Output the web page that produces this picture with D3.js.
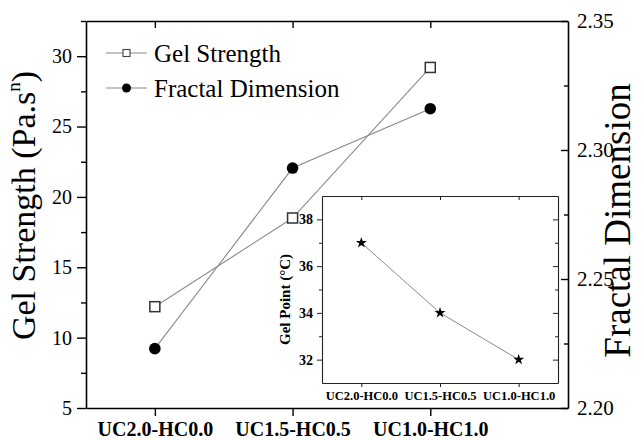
<!DOCTYPE html>
<html>
<head>
<meta charset="utf-8">
<script src="https://cdn.jsdelivr.net/npm/d3@7"></script>
<style>
  html, body { margin: 0; padding: 0; background: #fff; }
  svg { display: block; font-family: "Liberation Serif", "Times New Roman", serif; }
</style>
</head>
<body>
<svg id="chart" width="641" height="440"></svg>
<script>
// Formulations on the shared category axis
const categories = ["UC2.0-HC0.0", "UC1.5-HC0.5", "UC1.0-HC1.0"];
// Gel strength (Pa.s^n), left axis
const gelStrength = [12.2, 18.5, 29.2];
// Fractal dimension, right axis
const fractalDimension = [2.223, 2.293, 2.316];
// Gel point (°C), inset
const gelPoint = [37.0, 34.0, 32.0];

const leftTicks = [5, 10, 15, 20, 25, 30];
const rightTicks = [2.20, 2.25, 2.30, 2.35];
const insetTicks = [32, 34, 36, 38];

const svg = d3.select("#chart");
const frame = { left: 86, right: 568, top: 21, bottom: 408 };

const x = d3.scaleLinear().domain([-0.5, 3]).range([frame.left, frame.right]);
const yL = d3.scaleLinear().domain([5, 32.5]).range([frame.bottom, frame.top]);
const yR = d3.scaleLinear().domain([2.20, 2.35]).range([frame.bottom, frame.top]);
const idx = categories.map((d, i) => i);

const lineColor = "#8a8a8a";
const serif = "Liberation Serif, Times New Roman, serif";

// ---- main axes ----
function styleAxis(g, size) {
  g.selectAll("path.domain").attr("stroke", "#000").attr("stroke-width", 1.6);
  g.selectAll(".tick line").attr("stroke", "#000").attr("stroke-width", 1.4);
  g.selectAll(".tick text").attr("fill", "#000").attr("font-size", size)
    .attr("font-family", serif);
}

// left: labelled majors + minor ticks
svg.append("g").attr("transform", `translate(${frame.left},0)`)
  .call(d3.axisLeft(yL).tickValues(leftTicks).tickSize(9).tickSizeOuter(0).tickPadding(5))
  .call(g => styleAxis(g, 20));
svg.append("g").attr("transform", `translate(${frame.left},0)`)
  .call(d3.axisLeft(yL).tickValues(d3.range(7.5, 32.6, 5)).tickSize(5).tickFormat(""))
  .call(g => { g.select("path.domain").remove(); styleAxis(g, 20); });

// right: ticks point inward, labels outside
svg.append("g").attr("transform", `translate(${frame.right},0)`)
  .call(d3.axisRight(yR).tickValues(rightTicks).tickSize(-7).tickSizeOuter(0).tickPadding(9)
    .tickFormat(d3.format(".2f")))
  .call(g => styleAxis(g, 21));
svg.append("g").attr("transform", `translate(${frame.right},0)`)
  .call(d3.axisRight(yR).tickValues([2.225, 2.275, 2.325]).tickSize(-4).tickFormat(""))
  .call(g => { g.select("path.domain").remove(); styleAxis(g, 20); });

// bottom: category labels
svg.append("g").attr("transform", `translate(0,${frame.bottom})`)
  .call(d3.axisBottom(x).tickValues(idx).tickSize(8).tickSizeOuter(0).tickPadding(6)
    .tickFormat(i => categories[i]))
  .call(g => { styleAxis(g, 20); g.selectAll(".tick text").attr("font-weight", "bold"); });

// top border with inward ticks
svg.append("g").attr("transform", `translate(0,${frame.top})`)
  .call(d3.axisBottom(x).tickValues(idx).tickSize(7).tickSizeOuter(0).tickFormat(""))
  .call(g => styleAxis(g, 20));

// axis titles
svg.append("text")
  .attr("transform", `translate(35,${(frame.top + frame.bottom) / 2 - 9}) rotate(-90)`)
  .attr("text-anchor", "middle").attr("font-size", 34).attr("fill", "#000")
  .attr("font-family", serif)
  .call(t => {
    t.append("tspan").text("Gel Strength (Pa.s");
    t.append("tspan").text("n").attr("font-size", 19).attr("dy", -15);
    t.append("tspan").text(")").attr("dy", 15);
  });
svg.append("text")
  .attr("transform", `translate(630,${(frame.top + frame.bottom) / 2 + 6}) rotate(-90)`)
  .attr("text-anchor", "middle").attr("font-size", 37).attr("fill", "#000")
  .attr("font-family", serif)
  .text("Fractal Dimension");

// ---- main series ----
const gelLine = d3.line().x((d, i) => x(i)).y(d => yL(d));
const fdLine = d3.line().x((d, i) => x(i)).y(d => yR(d));

svg.append("path").datum(gelStrength).attr("d", gelLine)
  .attr("fill", "none").attr("stroke", lineColor).attr("stroke-width", 1.1);
svg.append("path").datum(fractalDimension).attr("d", fdLine)
  .attr("fill", "none").attr("stroke", lineColor).attr("stroke-width", 1.1);

const sq = 10;
svg.selectAll("rect.gs").data(gelStrength).join("rect").attr("class", "gs")
  .attr("x", (d, i) => x(i) - sq / 2).attr("y", d => yL(d) - sq / 2)
  .attr("width", sq).attr("height", sq)
  .attr("fill", "#fff").attr("stroke", "#333").attr("stroke-width", 1.5);

svg.selectAll("circle.fd").data(fractalDimension).join("circle").attr("class", "fd")
  .attr("cx", (d, i) => x(i)).attr("cy", d => yR(d)).attr("r", 5.8)
  .attr("fill", "#000");

// ---- legend ----
const legend = svg.append("g");
const legendRows = [
  { label: "Gel Strength", y: 53, mark: "square" },
  { label: "Fractal Dimension", y: 88, mark: "circle" }
];
legendRows.forEach(r => {
  legend.append("line").attr("x1", 106).attr("x2", 147).attr("y1", r.y).attr("y2", r.y)
    .attr("stroke", lineColor).attr("stroke-width", 1.1);
  if (r.mark === "square") {
    legend.append("rect").attr("x", 123).attr("y", r.y - 3.5).attr("width", 7).attr("height", 7)
      .attr("fill", "#fff").attr("stroke", "#444").attr("stroke-width", 1.1);
  } else {
    legend.append("circle").attr("cx", 126.5).attr("cy", r.y).attr("r", 4.5).attr("fill", "#000");
  }
  legend.append("text").attr("x", 154).attr("y", r.y + 9)
    .attr("font-size", 25).attr("fill", "#000").attr("font-family", serif).text(r.label);
});

// ---- inset: gel point ----
const inset = { left: 322, right: 558, top: 196, bottom: 383 };
const xi = d3.scaleLinear().domain([-0.5, 2.5]).range([inset.left, inset.right]);
const yi = d3.scaleLinear().domain([31, 39]).range([inset.bottom, inset.top]);

svg.append("rect").attr("x", inset.left).attr("y", inset.top)
  .attr("width", inset.right - inset.left).attr("height", inset.bottom - inset.top)
  .attr("fill", "#fff");

function styleInset(g, size) {
  g.selectAll("path.domain").attr("stroke", "#222").attr("stroke-width", 1.1);
  g.selectAll(".tick line").attr("stroke", "#222").attr("stroke-width", 1);
  g.selectAll(".tick text").attr("fill", "#000").attr("font-size", size)
    .attr("font-weight", "bold").attr("font-family", serif);
}

const insetMinor = d3.range(33, 38, 2);
svg.append("g").attr("transform", `translate(${inset.left},0)`)
  .call(d3.axisLeft(yi).tickValues(insetTicks).tickSize(5).tickSizeOuter(0).tickPadding(4))
  .call(g => styleInset(g, 14));
svg.append("g").attr("transform", `translate(${inset.left},0)`)
  .call(d3.axisLeft(yi).tickValues(insetMinor).tickSize(3).tickFormat(""))
  .call(g => { g.select("path.domain").remove(); styleInset(g, 14); });
svg.append("g").attr("transform", `translate(${inset.right},0)`)
  .call(d3.axisRight(yi).tickValues(insetTicks).tickSize(-5).tickSizeOuter(0).tickFormat(""))
  .call(g => styleInset(g, 14));
svg.append("g").attr("transform", `translate(${inset.right},0)`)
  .call(d3.axisRight(yi).tickValues(insetMinor).tickSize(-3).tickFormat(""))
  .call(g => { g.select("path.domain").remove(); styleInset(g, 14); });
svg.append("g").attr("transform", `translate(0,${inset.bottom})`)
  .call(d3.axisBottom(xi).tickValues(idx).tickSize(4).tickSizeOuter(0).tickPadding(4)
    .tickFormat(i => categories[i]))
  .call(g => styleInset(g, 12.5));
svg.append("g").attr("transform", `translate(0,${inset.top})`)
  .call(d3.axisBottom(xi).tickValues(idx).tickSize(4).tickSizeOuter(0).tickFormat(""))
  .call(g => styleInset(g, 12.5));

svg.append("text")
  .attr("transform", `translate(290,${(inset.top + inset.bottom) / 2 + 10}) rotate(-90)`)
  .attr("text-anchor", "middle").attr("font-size", 15).attr("font-weight", "bold")
  .attr("font-family", serif).attr("fill", "#000").text("Gel Point (°C)");

svg.append("path").datum(gelPoint)
  .attr("d", d3.line().x((d, i) => xi(i)).y(d => yi(d)))
  .attr("fill", "none").attr("stroke", lineColor).attr("stroke-width", 1);

svg.selectAll("path.gp").data(gelPoint).join("path").attr("class", "gp")
  .attr("transform", (d, i) => `translate(${xi(i)},${yi(d)})`)
  .attr("d", d3.symbol(d3.symbolStar, 38))
  .attr("fill", "#000");
</script>
</body>
</html>
